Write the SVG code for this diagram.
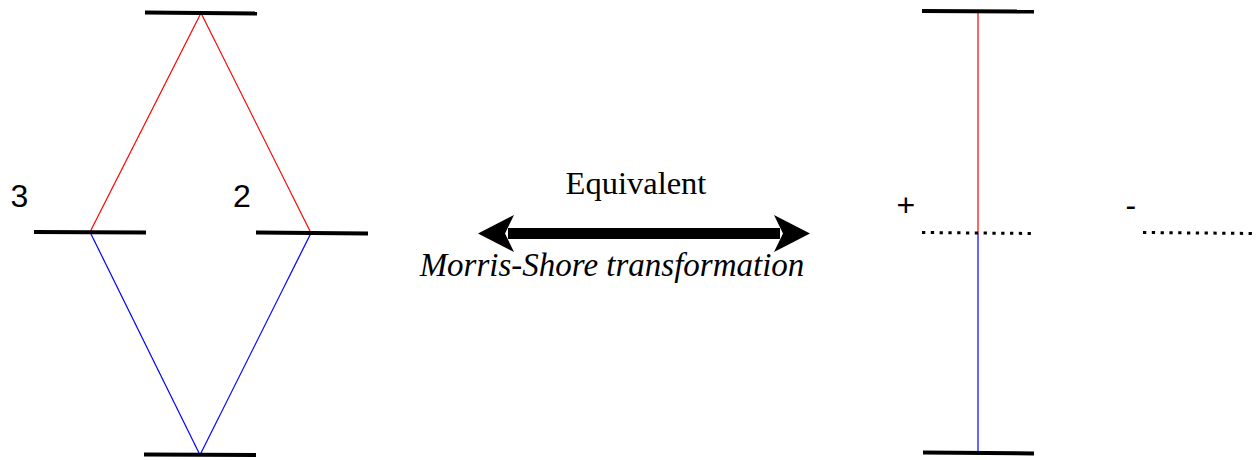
<svg xmlns="http://www.w3.org/2000/svg" width="1257" height="460" viewBox="0 0 1257 460">
<style>
.lvl{stroke:#000;stroke-width:4;fill:none}
.dot{stroke:#000;stroke-width:3;stroke-dasharray:3.3 5.5;fill:none}
.red{stroke:#ff0000;stroke-width:1.2;fill:none}
.blue{stroke:#0000ff;stroke-width:1.2;fill:none}
</style>
<g id="connectors">
<line class="red" x1="201" y1="13" x2="90" y2="232"/>
<line class="red" x1="201" y1="13" x2="311" y2="233"/>
<line class="blue" x1="90" y1="232" x2="200" y2="455"/>
<line class="blue" x1="311" y1="233" x2="200" y2="455"/>
<line class="red" x1="978" y1="12" x2="978" y2="233"/>
<line class="blue" x1="978" y1="233" x2="978" y2="453"/>
<g id="arrow">
<line x1="508" y1="233.5" x2="780" y2="233.5" stroke="#000" stroke-width="11"/>
<polygon points="478,233.5 514,215 505,233.5 514,252" fill="#000"/>
<polygon points="810,233.5 774,215 783,233.5 774,252" fill="#000"/>
</g>
</g>
<g id="level-top-left"><line class="lvl" x1="145" y1="12.5" x2="257" y2="13.5"/></g>
<g id="level-bottom-left"><line class="lvl" x1="144" y1="454.5" x2="256" y2="455"/></g>
<g id="level-3"><line class="lvl" x1="34" y1="232" x2="146" y2="232.5"/><text x="10.6" y="207" font-family="'Liberation Sans', Arial, sans-serif" font-size="32" fill="#000">3</text></g>
<g id="level-2"><line class="lvl" x1="256" y1="232.5" x2="368" y2="233.5"/><text x="233" y="207" font-family="'Liberation Sans', Arial, sans-serif" font-size="32" fill="#000">2</text></g>
<g id="level-top-right"><line class="lvl" x1="922" y1="11" x2="1034" y2="11.5"/></g>
<g id="level-bottom-right"><line class="lvl" x1="923" y1="452.5" x2="1034" y2="453.5"/></g>
<g id="level-plus"><line class="dot" x1="922" y1="232.5" x2="1034" y2="233.5"/><text x="896.5" y="216" font-family="'Liberation Sans', Arial, sans-serif" font-size="32" fill="#000">+</text></g>
<g id="level-minus"><line class="dot" x1="1143" y1="232.5" x2="1257" y2="233.5"/><text x="1125.6" y="215.5" font-family="'Liberation Sans', Arial, sans-serif" font-size="32" fill="#000">-</text></g>
<g id="labels">
<text x="636" y="194" text-anchor="middle" font-family="'Liberation Serif', 'Times New Roman', serif" font-size="32.5" fill="#000">Equivalent</text>
<text x="612" y="276" text-anchor="middle" font-style="italic" font-family="'Liberation Serif', 'Times New Roman', serif" font-size="33" fill="#000">Morris-Shore transformation</text>
</g>
</svg>
